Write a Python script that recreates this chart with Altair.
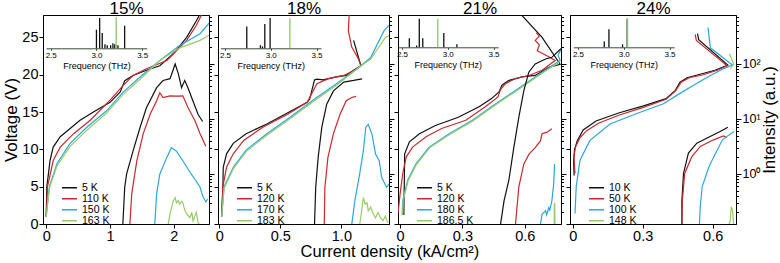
import altair as alt
import pandas as pd

# ---------------- data ----------------
COLORS = ['#111111', '#c42a2e', '#2aa7da', '#98cb6b']
GREEN_SPEC = '#8cc466'

TITLES = ['15%', '18%', '21%', '24%']
TEMPS_15 = ['5 K', '110 K', '150 K', '163 K']
TEMPS_18 = ['5 K', '120 K', '170 K', '183 K']
TEMPS_21 = ['5 K', '120 K', '180 K', '186.5 K']
TEMPS_24 = ['10 K', '50 K', '100 K', '148 K']

# Voltage (V) vs current density (kA/cm2): (J, V)
IV_15_A = [(0, 1.0), (0.01, 5.0), (0.06, 8.5), (0.11, 10.3), (0.22, 11.7), (0.375, 12.8), (0.53, 13.9), (0.74, 15.0),
           (1.0, 16.3), (1.16, 17.7), (1.23, 19.2), (1.36, 19.9), (1.57, 20.6), (1.78, 21.2), (1.99, 22.8),
           (2.2, 25.0), (2.35, 27.2), (2.42, 28.3)]
IV_15_B = [(0, 1.0), (0.02, 5.0), (0.11, 8.5), (0.22, 10.3), (0.43, 12.1), (0.69, 13.9), (1.0, 16.6), (1.21, 18.6),
           (1.36, 19.9), (1.57, 20.8), (1.89, 21.9), (2.2, 24.6), (2.35, 26.6), (2.45, 28.3)]
IV_15_C = [(0, 1.0), (0.05, 5.0), (0.17, 8.1), (0.375, 10.8), (0.64, 13.0), (0.95, 15.2), (1.21, 17.7), (1.47, 19.7),
           (1.78, 21.9), (2.09, 23.9), (2.41, 25.5), (2.55, 26.9)]
IV_15_D = [(0, 1.0), (0.05, 4.8), (0.17, 7.8), (0.375, 10.4), (0.64, 12.6), (0.95, 14.9), (1.21, 17.4), (1.47, 19.4),
           (1.78, 21.9), (2.09, 23.6), (2.41, 24.6), (2.55, 25.3)]

IV_18_A = [(0.02, 1.0), (0.03, 5.0), (0.033, 7.6), (0.06, 9.4), (0.115, 10.8), (0.22, 12.1), (0.39, 13.4), (0.55, 14.8),
           (0.72, 16.3), (0.74, 16.7), (0.78, 19.3), (0.8, 19.4), (0.85, 19.3), (0.96, 19.7), (1.04, 19.9),
           (1.10, 20.6), (1.16, 21.2), (1.10, 24.6)]
IV_18_B = [(0.02, 1.0), (0.03, 5.0), (0.06, 7.6), (0.115, 9.4), (0.2, 11.2), (0.36, 13.0), (0.55, 14.6), (0.72, 16.3),
           (0.8, 18.8), (0.9, 19.5), (1.02, 19.9), (1.13, 20.8), (1.16, 21.2), (1.14, 22.1), (1.085, 23.7),
           (1.057, 25.9), (1.065, 28.3)]
IV_18_C = [(0.02, 1.0), (0.04, 5.0), (0.115, 7.6), (0.22, 9.9), (0.39, 12.1), (0.58, 14.3), (0.77, 16.6), (0.96, 18.8),
           (1.13, 20.8), (1.24, 22.3), (1.35, 25.9), (1.39, 26.6)]
IV_18_D = [(0.02, 1.0), (0.04, 4.8), (0.115, 7.4), (0.22, 9.7), (0.39, 11.9), (0.58, 14.1), (0.77, 16.4), (0.96, 18.6),
           (1.13, 20.8), (1.24, 22.1), (1.36, 25.0), (1.39, 25.2)]

IV_21_A = [(0.018, 1.2), (0.02, 4.9), (0.022, 9.4), (0.045, 11.0), (0.093, 12.1), (0.17, 13.2), (0.28, 14.3),
           (0.38, 15.7), (0.44, 16.8), (0.476, 17.7), (0.49, 18.6), (0.52, 19.2), (0.587, 19.7), (0.65, 19.9),
           (0.715, 21.0), (0.77, 21.4), (0.683, 25.0), (0.587, 27.9), (0.58, 28.3)]
IV_21_B = [(-0.01, 1.4), (0.0, 4.0), (0.013, 6.8), (0.03, 9.0), (0.06, 10.3), (0.125, 11.7), (0.2, 12.8), (0.316, 13.9),
           (0.41, 15.7), (0.47, 17.0), (0.483, 18.0), (0.507, 18.8), (0.555, 19.5), (0.62, 19.9), (0.683, 20.6),
           (0.746, 21.9), (0.715, 22.4), (0.66, 23.2), (0.67, 24.0), (0.65, 24.6), (0.67, 25.2), (0.655, 25.6)]
IV_21_C = [(0.01, 1.2), (0.013, 3.2), (0.037, 5.9), (0.077, 8.1), (0.14, 10.3), (0.236, 12.1), (0.348, 13.9),
           (0.46, 16.1), (0.555, 17.9), (0.65, 19.7), (0.73, 21.2), (0.77, 21.9), (0.76, 22.6), (0.774, 23.4)]
IV_21_D = [(0.012, 1.2), (0.015, 3.2), (0.039, 5.8), (0.079, 8.0), (0.142, 10.2), (0.238, 12.0), (0.35, 13.8),
           (0.462, 16.0), (0.557, 17.8), (0.652, 19.6), (0.732, 21.1), (0.765, 21.6), (0.75, 21.4)]

IV_24_A = [(0.006, 6.5), (0.004, 8.5), (0.008, 10.0), (0.02, 11.2), (0.045, 12.6), (0.1, 13.8), (0.2, 14.9),
           (0.3, 15.8), (0.4, 16.8), (0.44, 17.9), (0.46, 19.0), (0.49, 19.6), (0.55, 20.1), (0.61, 20.6),
           (0.665, 21.3), (0.54, 24.7), (0.535, 25.5)]
IV_24_B = [(0.01, 6.8), (0.005, 9.0), (0.012, 10.3), (0.03, 11.5), (0.06, 12.5), (0.11, 13.5), (0.2, 14.6),
           (0.3, 15.6), (0.4, 16.7), (0.44, 17.8), (0.465, 19.0), (0.5, 19.6), (0.56, 20.0), (0.62, 20.6),
           (0.662, 21.2), (0.53, 24.6), (0.525, 25.4)]
IV_24_C = [(0.01, 1.4), (0.015, 5.0), (0.031, 8.5), (0.074, 11.2), (0.16, 13.4), (0.275, 14.8), (0.389, 16.1),
           (0.46, 17.5), (0.518, 18.6), (0.59, 19.9), (0.646, 20.8), (0.685, 21.3), (0.59, 23.6), (0.58, 26.3)]
IV_24_D = [(0.676, 20.8), (0.69, 21.4), (0.672, 22.8)]

# Intensity (a.u.) vs current density: (J, I)
LI_15_A = [(1.20, 0.12), (1.23, 0.575), (1.26, 1.0), (1.36, 2.6), (1.47, 7.0), (1.57, 16), (1.73, 37), (1.83, 50),
           (1.94, 54), (2.02, 100), (2.07, 66), (2.12, 37), (2.17, 50), (2.22, 37), (2.30, 21), (2.38, 12), (2.45, 9.0)]
LI_15_B = [(1.31, 0.12), (1.34, 0.44), (1.42, 1.74), (1.52, 5.4), (1.63, 12.3), (1.73, 21.4), (1.78, 30), (1.83, 24.5),
           (1.94, 26.3), (2.05, 26), (2.14, 26.3), (2.22, 16.2), (2.33, 9.3), (2.41, 5.4), (2.5, 3.2)]
LI_15_C = [(1.70, 0.12), (1.73, 0.44), (1.78, 1.0), (1.89, 2.0), (1.96, 3.0), (2.04, 2.6), (2.14, 1.74), (2.27, 1.0),
           (2.33, 0.8), (2.41, 0.575), (2.45, 0.4), (2.5, 0.31), (2.53, 0.35)]
LI_15_D = [(1.91, 0.12), (1.94, 0.19), (1.99, 0.32), (2.02, 0.37), (2.04, 0.3), (2.07, 0.33), (2.09, 0.28),
           (2.12, 0.32), (2.14, 0.3), (2.17, 0.22), (2.2, 0.19), (2.25, 0.16), (2.28, 0.2), (2.3, 0.14), (2.35, 0.2),
           (2.38, 0.13), (2.4, 0.12)]

LI_18_A = [(0.78, 0.12), (0.79, 0.575), (0.81, 2.0), (0.84, 7.1), (0.88, 18.6), (0.935, 32.4), (1.02, 46.8),
           (1.10, 50.1), (1.17, 53.7)]
LI_18_B = [(0.86, 0.12), (0.865, 0.575), (0.89, 2.0), (0.935, 5.4), (0.99, 12.3), (1.04, 21.4), (1.085, 24.5),
           (1.12, 25.7)]
LI_18_C = [(1.085, 0.12), (1.11, 0.32), (1.15, 1.0), (1.18, 2.63), (1.20, 7.08), (1.22, 7.94), (1.25, 5.37),
           (1.28, 2.29), (1.31, 1.74), (1.33, 0.87), (1.37, 0.575), (1.39, 0.65)]
LI_18_D = [(1.15, 0.12), (1.17, 0.245), (1.18, 0.372), (1.195, 0.282), (1.21, 0.3), (1.22, 0.214), (1.24, 0.25),
           (1.26, 0.19), (1.28, 0.158), (1.30, 0.2), (1.32, 0.16), (1.34, 0.141), (1.36, 0.17), (1.38, 0.13)]

LI_21_A = [(0.483, 0.12), (0.5, 0.324), (0.523, 0.76), (0.547, 3.02), (0.571, 10.7), (0.595, 32.4), (0.619, 70.8),
           (0.65, 100), (0.7, 123), (0.73, 132), (0.763, 174), (0.774, 190)]
LI_21_B = [(0.555, 0.12), (0.571, 0.575), (0.595, 1.51), (0.62, 2.29), (0.65, 3.02), (0.675, 3.98), (0.683, 5.37),
           (0.707, 5.75), (0.73, 6.6)]
LI_21_C = [(0.675, 0.12), (0.683, 0.186), (0.7, 0.214), (0.705, 0.18), (0.715, 0.245), (0.72, 0.22), (0.73, 0.324),
           (0.739, 0.66), (0.743, 1.51)]
LI_21_D = [(0.741, 0.12), (0.742, 0.3), (0.744, 0.28), (0.745, 0.12)]

LI_24_A = [(0.468, 0.12), (0.468, 0.324), (0.475, 1.02), (0.496, 2.4), (0.532, 3.63), (0.589, 4.79), (0.632, 5.89),
           (0.665, 7.08)]
LI_24_B = [(0.468, 0.12), (0.47, 0.324), (0.48, 1.02), (0.51, 2.04), (0.547, 3.16), (0.604, 4.17), (0.646, 4.9),
           (0.66, 4.6)]
LI_24_C = [(0.543, 0.12), (0.547, 0.257), (0.555, 0.59), (0.584, 1.35), (0.613, 2.4), (0.642, 4.17), (0.67, 5.13),
           (0.692, 5.89)]
LI_24_D = [(0.67, 0.12), (0.675, 0.14), (0.68, 0.25), (0.685, 0.22), (0.69, 0.12)]

# Inset spectra: (frequency THz, normalised amplitude)
SPEC_15_LOW = [(3.0, 0.6), (3.035, 0.98), (3.063, 0.49), (3.093, 0.13), (3.118, 0.1), (3.155, 0.1), (3.18, 0.16),
               (3.2, 0.13), (3.235, 0.1), (3.308, 0.73)]
SPEC_15_HIGH = [(3.216, 1.0)]
SPEC_18_LOW = [(2.738, 0.70), (2.887, 0.1), (2.91, 0.06), (2.935, 0.78), (2.993, 0.98)]
SPEC_18_HIGH = [(3.209, 0.97)]
SPEC_21_LOW = [(2.58, 0.30), (2.66, 0.06), (2.689, 0.95), (2.727, 0.30), (2.957, 0.48), (3.1, 0.1)]
SPEC_21_HIGH = [(2.891, 0.95)]
SPEC_24_LOW = [(2.787, 0.19), (2.838, 0.6), (2.987, 0.1), (3.038, 0.95)]
SPEC_24_HIGH = [(3.042, 0.97)]

V_TICKS = [0, 5, 10, 15, 20, 25]
LOG_TICKS = [0.2, 0.3, 0.4, 0.5, 0.6, 0.7, 0.8, 0.9, 1, 2, 3, 4, 5, 6, 7, 8, 9,
             10, 20, 30, 40, 50, 60, 70, 80, 90, 100, 200, 300, 400, 500, 600, 700]
FREQ_TICKS = [2.5, 3.0, 3.5]

PANELS = [
    dict(title=TITLES[0], temps=TEMPS_15, iv=[IV_15_A, IV_15_B, IV_15_C, IV_15_D],
         li=[LI_15_A, LI_15_B, LI_15_C, LI_15_D], low=SPEC_15_LOW, high=SPEC_15_HIGH,
         xdom=[-0.05, 2.55], xticks=[0, 1, 2], fmt='d', width=166, f0=7.7, base=33.3),
    dict(title=TITLES[1], temps=TEMPS_18, iv=[IV_18_A, IV_18_B, IV_18_C, IV_18_D],
         li=[LI_18_A, LI_18_B, LI_18_C, LI_18_D], low=SPEC_18_LOW, high=SPEC_18_HIGH,
         xdom=[-0.01, 1.39], xticks=[0, 0.5, 1.0], fmt='.1f', width=171, f0=7, base=33.3),
    dict(title=TITLES[2], temps=TEMPS_21, iv=[IV_21_A, IV_21_B, IV_21_C, IV_21_D],
         li=[LI_21_A, LI_21_B, LI_21_C, LI_21_D], low=SPEC_21_LOW, high=SPEC_21_HIGH,
         xdom=[-0.01, 0.774], xticks=[0, 0.3, 0.6], fmt='.1f', width=163, f0=4, base=32.3),
    dict(title=TITLES[3], temps=TEMPS_24, iv=[IV_24_A, IV_24_B, IV_24_C, IV_24_D],
         li=[LI_24_A, LI_24_B, LI_24_C, LI_24_D], low=SPEC_24_LOW, high=SPEC_24_HIGH,
         xdom=[-0.0116, 0.70], xticks=[0, 0.3, 0.6], fmt='.1f', width=166, f0=8, base=32.3),
]

H = 209
FONT = 'Liberation Sans'


def curves_df(curves, temps, col):
    rows = []
    for t, pts in zip(temps, curves):
        for k, (j, v) in enumerate(pts):
            rows.append({'T': t, 'k': k, 'J': j, col: v})
    return pd.DataFrame(rows)


def spec_df(pts):
    return pd.DataFrame([{'f': f, 'a': a} for f, a in pts])


def make_panel(p, first, last):
    xs = alt.Scale(domain=p['xdom'], nice=False, zero=False)
    ys = alt.Scale(domain=[0, 28], nice=False, zero=False)
    ls = alt.Scale(type='log', domain=[0.123, 776], nice=False)
    cs = alt.Scale(domain=p['temps'], range=COLORS)
    ppt = 91.5
    fs = alt.Scale(domain=[2.45, 3.55], range=[p['f0'] - 0.05 * ppt, p['f0'] + 1.05 * ppt], nice=False, zero=False)
    amp = alt.Scale(domain=[0, 1], range=[p['base'], 2.3], nice=False, zero=False)

    xaxis = alt.Axis(orient='bottom', values=p['xticks'], title=None, grid=False, tickSize=4, labelFontSize=14.5,
                     labelPadding=1, labelFlush=False,
                     labelExpr="datum.value == 0 ? '0' : format(datum.value, '" + p['fmt'] + "')")
    # top axis only carries the panel title
    taxis = alt.Axis(orient='top', values=[], domain=False, ticks=False, labels=False, grid=False,
                     title=p['title'], titleFontSize=17, titleFontWeight='normal', titlePadding=2,
                     titleBaseline='alphabetic')
    yaxis = alt.Axis(orient='left', values=V_TICKS, grid=False, tickSize=4, labels=first,
                     labelFontSize=14.5, labelPadding=1,
                     title='Voltage (V)' if first else None, titleFontSize=17, titleFontWeight='normal',
                     titlePadding=1)
    major = "datum.value == 1 || datum.value == 10 || datum.value == 100"
    raxis = alt.Axis(orient='right', values=LOG_TICKS, grid=False, labels=last, labelOverlap=False,
                     labelFontSize=12.5, labelPadding=1,
                     labelExpr="datum.value == 1 ? '10\u2070' : datum.value == 10 ? '10\u00b9' : datum.value == 100 ? '10\u00b2' : ''",
                     tickSize={'condition': {'test': major, 'value': 5}, 'value': 2.5},
                     title='Intensity (a.u.)' if last else None, titleFontSize=17, titleFontWeight='normal',
                     titleAngle=270, titleBaseline='top', titlePadding=1)
    legend = alt.Legend(orient='none', legendX=18, legendY=168, title=None, symbolType='stroke',
                        symbolSize=225, symbolStrokeWidth=1.6, clipHeight=9.5, labelFontSize=10.5,
                        padding=0, rowPadding=-2.5, labelOffset=4)
    faxis = alt.Axis(orient='bottom', offset=-(H - p['base']), values=FREQ_TICKS, format='.1f',
                     title='Frequency (THz)', labelFontSize=8, titleFontSize=9, titleFontWeight='normal',
                     tickSize=2, labelPadding=1, titlePadding=2, grid=False, domainColor='#3a4a3a',
                     tickColor='#3a4a3a', labelFlush=False)

    iv = alt.Chart(curves_df(p['iv'], p['temps'], 'V')).mark_line(strokeWidth=1.2, clip=True).encode(
        x=alt.X('J:Q', scale=xs, axis=xaxis),
        y=alt.Y('V:Q', scale=ys, axis=yaxis),
        color=alt.Color('T:N', scale=cs, legend=legend),
        order='k:Q',
    )
    li = alt.Chart(curves_df(p['li'], p['temps'], 'I')).mark_line(strokeWidth=1.2, clip=True).encode(
        x=alt.X('J:Q', scale=xs, axis=taxis),
        y=alt.Y('I:Q', scale=ls, axis=raxis),
        color=alt.Color('T:N', scale=cs, legend=legend),
        order='k:Q',
    )
    spk = alt.Chart(spec_df(p['low'])).mark_rule(color='#111111', strokeWidth=1.3).encode(
        x=alt.X('f:Q', scale=fs, axis=faxis),
        y=alt.Y('a:Q', scale=amp, axis=None),
        y2=alt.datum(0),
    )
    spg = alt.Chart(spec_df(p['high'])).mark_rule(color=GREEN_SPEC, strokeWidth=1.3).encode(
        x=alt.X('f:Q', scale=fs, axis=None),
        y=alt.Y('a:Q', scale=amp, axis=None),
        y2=alt.datum(0),
    )
    return alt.layer(spk, spg, iv, li).resolve_scale(
        x='independent', y='independent'
    ).properties(width=p['width'], height=H)


panels = [make_panel(p, i == 0, i == 3) for i, p in enumerate(PANELS)]

# autosize "none": the plot grid origin sits exactly at the padding corner;
# the concat reports zero width, so the right padding carries the canvas width.
chart = alt.hconcat(*panels, spacing=9, bounds='flush').resolve_scale(
    x='independent', y='independent', color='independent'
).properties(
    title=alt.TitleParams('Current density (kA/cm\u00b2)', orient='bottom', anchor='middle', fontSize=16.5,
                          fontWeight='normal', offset=1, font=FONT),
    autosize=alt.AutoSizeParams(type='none'),
    padding={'left': 43, 'top': 15, 'right': 737, 'bottom': 39},
).configure(font=FONT).configure_view(stroke='black', strokeWidth=1).configure_axis(
    domainColor='black', tickColor='black', labelColor='black', titleColor='black', domainWidth=1, tickWidth=1
).configure_legend(labelColor='black', labelFont=FONT)

chart.save('out.html', embed_options={'renderer': 'svg', 'actions': False})
